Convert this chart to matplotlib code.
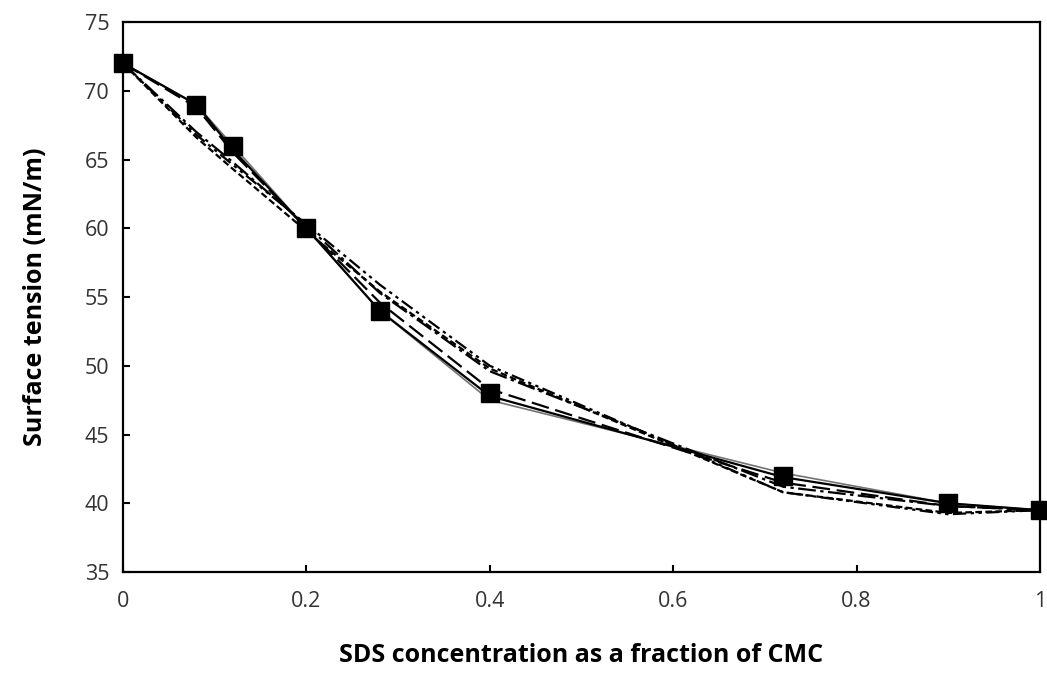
import matplotlib.pyplot as plt

# SDS fraction of CMC
x = [0, 0.08, 0.12, 0.2, 0.28, 0.4, 0.72, 0.9, 1.0]

# measured surface tension (mN/m)
measured = [72, 69, 66, 60, 54, 48, 42, 40, 39.5]

# model curves
exp_line = [72, 69, 66, 60, 54, 47.5, 42.2, 40.0, 39.5]
model_a = [72, 69, 65.7, 60, 54, 47.8, 41.9, 40.0, 39.5]
model_b = [72, 68.8, 65.5, 60, 54.6, 48.3, 41.5, 39.8, 39.5]
model_c = [72, 67.0, 64.8, 60.2, 55.3, 49.6, 41.2, 39.8, 39.5]
model_d = [72, 66.6, 64.3, 59.8, 55.4, 49.8, 40.8, 39.3, 39.5]
model_e = [72, 66.8, 64.6, 60.3, 55.9, 50.0, 40.8, 39.2, 39.5]

plt.rcParams['font.family'] = ['Open Sans', 'DejaVu Sans']

fig = plt.figure(figsize=(10.47, 6.84), dpi=100)
ax = fig.add_axes([0.1175, 0.1637, 0.8758, 0.8041])

ax.plot(x, exp_line, color='0.45', lw=1.2, ls='-')
ax.plot(x, model_a, color='black', lw=1.6, ls='-')
ax.plot(x, model_b, color='black', lw=1.6, ls=(0, (8, 3)))
ax.plot(x, model_c, color='black', lw=1.6, ls=(0, (8, 2, 1.5, 2)))
ax.plot(x, model_d, color='black', lw=1.6, ls=(0, (3, 1.5)))
ax.plot(x, model_e, color='black', lw=1.6, ls=(0, (6, 2, 1.5, 2, 1.5, 2)))
ax.plot(x, measured, ls='none', marker='s', ms=13, color='black',
        clip_on=False, zorder=5)

ax.set_xlim(0, 1)
ax.set_ylim(35, 75)
ax.set_xticks([0, 0.2, 0.4, 0.6, 0.8, 1])
ax.set_xticklabels(['0', '0.2', '0.4', '0.6', '0.8', '1'])
ax.set_yticks(range(35, 80, 5))

ax.tick_params(direction='in', length=5, width=1.5, labelsize=15.5,
               color='black', labelcolor='#333333')
ax.tick_params(axis='x', pad=14)
ax.tick_params(axis='y', pad=10)
for s in ax.spines.values():
    s.set_linewidth(1.6)

ax.set_xlabel('SDS concentration as a fraction of CMC', fontsize=18,
              fontweight='bold', labelpad=22)
ax.set_ylabel('Surface tension (mN/m)', fontsize=18, fontweight='bold',
              labelpad=26)

fig.savefig('out.png', dpi=100)
